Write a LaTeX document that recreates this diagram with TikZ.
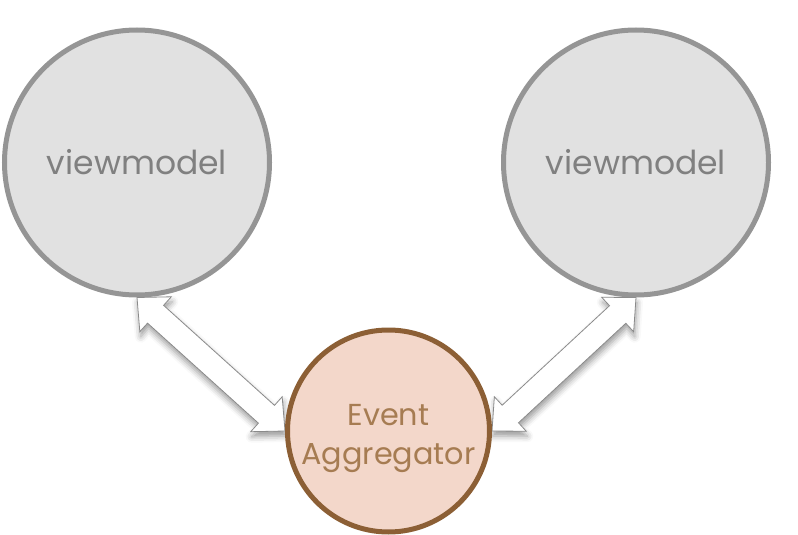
\documentclass[tikz,border=0pt]{standalone}
\usepackage{fontspec}
\setmainfont{Poppins}
\usetikzlibrary{calc,shadows.blur}
\pgfdeclarelayer{bg}\pgfsetlayers{bg,main}
\definecolor{vmfill}{HTML}{E1E1E1}
\definecolor{vmline}{HTML}{959595}
\definecolor{vmtext}{HTML}{808080}
\definecolor{eafill}{HTML}{F3D7CA}
\definecolor{ealine}{HTML}{8C5F35}
\definecolor{eatext}{HTML}{A67C52}
\definecolor{arline}{HTML}{8A8A8A}
\newcommand\evarrow[2]{%
 \path[arrowshape] (#1) -- ($(#1)!25pt!(#2)!23.5pt!90:(#2)$) -- ($(#1)!25pt!(#2)!12pt!90:(#2)$)
  -- ($(#2)!25pt!(#1)!12pt!-90:(#1)$) -- ($(#2)!25pt!(#1)!23.5pt!-90:(#1)$) -- (#2)
  -- ($(#2)!25pt!(#1)!23.5pt!90:(#1)$) -- ($(#2)!25pt!(#1)!12pt!90:(#1)$)
  -- ($(#1)!25pt!(#2)!12pt!-90:(#2)$) -- ($(#1)!25pt!(#2)!23.5pt!-90:(#2)$) -- cycle;}
\begin{document}
\begin{tikzpicture}[x=1pt,y=-1pt,
  vm/.style={circle,draw=vmline,fill=vmfill,line width=5pt,minimum size=265pt,inner sep=0pt,
    text=vmtext,font=\fontsize{33}{40}\selectfont},
  ea/.style={circle,draw=ealine,fill=eafill,line width=5pt,minimum size=202pt,inner sep=0pt},
  eatxt/.style={text=eatext,align=center,font=\fontsize{30.3}{39}\selectfont},
  arrowshape/.style={draw=arline,line width=0.8pt,fill=white,line join=miter,
    blur shadow={shadow xshift=1pt,shadow yshift=-5pt,shadow blur radius=6pt,shadow opacity=40}}]
\useasboundingbox (0,0) rectangle (798,535);
\node[vm] (vmL) at (137,162.5) {viewmodel};
\node[vm] (vmR) at (636,162.5) {viewmodel};
\node[ea,label={[eatxt,yshift=-8pt,name=eatxt]center:Event\\Aggregator}] (ea) at (388.5,431) {};
\begin{pgfonlayer}{bg}
\evarrow{vmL.south}{ea.west}
\evarrow{vmR.south}{ea.east}
\end{pgfonlayer}
\end{tikzpicture}
\end{document}
